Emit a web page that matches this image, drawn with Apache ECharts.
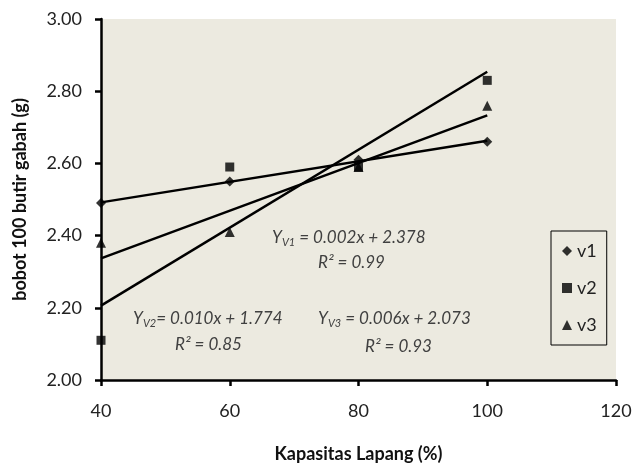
<!DOCTYPE html>
<html>
<head>
<meta charset="utf-8">
<script src="https://cdn.jsdelivr.net/npm/echarts@6/dist/echarts.min.js"></script>
<style>
  html, body { margin: 0; padding: 0; background: #fff; }
  #chart { width: 633px; height: 463px; }
</style>
</head>
<body>
<div id="chart"></div>
<script>
  // data
  const kapasitas = [40, 60, 80, 100];
  const v1 = [2.49, 2.55, 2.61, 2.66];
  const v2 = [2.11, 2.59, 2.59, 2.83];
  const v3 = [2.38, 2.41, 2.59, 2.76];
  const seriesNames = ["v1", "v2", "v3"];
  const symbols = ["diamond", "rect", "triangle"];
  const symbolSizes = [10, 9, 10];

  // least squares trend line over the observed x range
  function trend(xs, ys) {
    const n = xs.length;
    const mx = xs.reduce((a, b) => a + b, 0) / n;
    const my = ys.reduce((a, b) => a + b, 0) / n;
    let sxy = 0, sxx = 0;
    xs.forEach((x, i) => {
      sxy += (x - mx) * (ys[i] - my);
      sxx += (x - mx) * (x - mx);
    });
    const b = sxy / sxx;
    const a = my - b * mx;
    const x0 = xs[0], x1 = xs[n - 1];
    return [[x0, a + b * x0], [x1, a + b * x1]];
  }

  const allData = [v1, v2, v3];
  let series = [];
  allData.forEach((ys, i) => {
    series.push({
      name: "trend " + seriesNames[i],
      type: "line",
      data: trend(kapasitas, ys),
      showSymbol: false,
      silent: true,
      lineStyle: { color: "#000", width: 2.5 },
      z: 2
    });
  });
  allData.forEach((ys, i) => {
    series.push({
      name: seriesNames[i],
      type: "scatter",
      data: kapasitas.map((x, j) => [x, ys[j]]),
      symbol: symbols[i],
      symbolSize: symbolSizes[i],
      itemStyle: { color: "#000" },
      z: 3
    });
  });

  const eqStyle = {
    n: { fontSize: 17, fontStyle: "italic", fontFamily: "Lato", color: "#404040", lineHeight: 22 },
    s: { fontSize: 11, fontStyle: "italic", fontFamily: "Lato", color: "#404040", lineHeight: 22, padding: [9, 0, 0, 0] }
  };
  function eqText(left, top, str) {
    return {
      type: "text",
      left: left,
      top: top,
      style: { text: str, rich: eqStyle, fill: "#404040" }
    };
  }

  const myChart = echarts.init(document.getElementById("chart"));
  const option = {
    animation: false,
    textStyle: { fontFamily: "Lato" },
    grid: {
      left: 101,
      right: 17,
      top: 19,
      bottom: 83,
      outerBoundsMode: "none",
      show: true,
      backgroundColor: "#ECEAE0",
      borderWidth: 0
    },
    legend: {
      orient: "vertical",
      left: 551,
      top: 231,
      padding: [11, 10, 11, 11],
      itemGap: 19,
      itemWidth: 10,
      itemHeight: 10,
      borderColor: "#000",
      borderWidth: 1,
      backgroundColor: "#ECEAE0",
      data: seriesNames.map((n, i) => ({ name: n, icon: symbols[i] })),
      textStyle: { fontSize: 18, color: "#222", fontFamily: "Lato" },
      itemStyle: { color: "#000" }
    },
    xAxis: {
      type: "value",
      min: 40,
      max: 120,
      interval: 20,
      name: "Kapasitas Lapang (%)",
      nameLocation: "middle",
      nameGap: 65,
      nameTextStyle: { fontSize: 18, fontWeight: "bold", color: "#111" },
      axisLine: { lineStyle: { color: "#000", width: 2.5 } },
      axisTick: { show: true, length: 6, lineStyle: { color: "#000", width: 2.5 } },
      axisLabel: { fontSize: 18, color: "#222", margin: 22 },
      splitLine: { show: false }
    },
    yAxis: {
      type: "value",
      min: 2,
      max: 3,
      interval: 0.2,
      name: "bobot 100 butir gabah (g)",
      nameLocation: "middle",
      nameGap: 72,
      nameTextStyle: { fontSize: 18, fontWeight: "bold", color: "#111" },
      axisLine: { show: true, lineStyle: { color: "#000", width: 2.5 } },
      axisTick: { show: true, length: 6, lineStyle: { color: "#000", width: 2.5 } },
      axisLabel: { fontSize: 18, color: "#222", margin: 19, formatter: v => v.toFixed(2) },
      splitLine: { show: false }
    },
    graphic: [
      eqText(272, 228, "{n|Y}{s|V1}{n| = 0.002x + 2.378}"),
      eqText(318, 254, "{n|R² = 0.99}"),
      eqText(133, 309, "{n|Y}{s|V2}{n|= 0.010x + 1.774}"),
      eqText(175, 336, "{n|R² = 0.85}"),
      eqText(318, 309, "{n|Y}{s|V3}{n| = 0.006x + 2.073}"),
      eqText(365, 338, "{n|R² = 0.93}")
    ],
    series: series
  };
  myChart.setOption(option);
</script>
</body>
</html>
